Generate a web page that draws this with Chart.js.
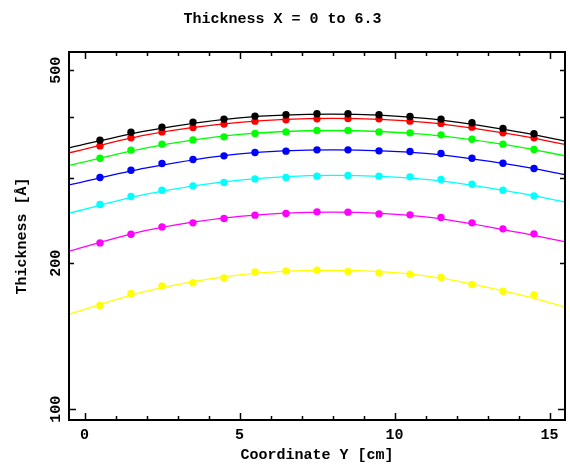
<!DOCTYPE html>
<html>
<head>
<meta charset="utf-8">
<script src="https://cdn.jsdelivr.net/npm/chart.js@4"></script>
<style>
  html, body { margin: 0; padding: 0; background: #fff; }
</style>
</head>
<body>
<canvas id="chart" width="570" height="468"></canvas>
<script>
// measured positions (cm)
const xPoints = [0.5, 1.5, 2.5, 3.5, 4.5, 5.5, 6.5, 7.5, 8.5, 9.5, 10.5, 11.5, 12.5, 13.5, 14.5];
const xFit = [-0.5, 2, 5, 8, 11, 14, 15.5];

const seriesColors = ["#000000", "#ff0000", "#00ff00", "#0000ff", "#00ffff", "#ff00ff", "#ffff00"];

const blackVals = [358.6, 372.5, 381.5, 390.7, 396.3, 402.0, 404.5, 406.4, 406.4, 404.5, 401.3, 396.3, 389.4, 379.2, 369.6];
const redVals = [349.0, 362.6, 373.0, 380.9, 387.0, 392.5, 394.9, 396.8, 397.6, 396.8, 392.5, 388.3, 381.5, 371.3, 362.6];
const greenVals = [329.2, 342.0, 351.9, 359.1, 364.3, 370.2, 373.0, 375.5, 375.5, 373.0, 371.3, 367.8, 360.3, 351.9, 343.1];
const blueVals = [300.4, 311.0, 321.1, 327.2, 332.9, 338.3, 340.4, 342.5, 342.5, 340.9, 339.9, 336.7, 329.2, 321.5, 313.5];
const cyanVals = [264.3, 274.5, 282.8, 288.7, 293.4, 298.4, 300.4, 302.3, 303.3, 302.3, 301.3, 297.6, 291.0, 282.8, 275.3];
const magentaVals = [220.2, 229.5, 237.6, 242.2, 247.3, 251.2, 253.2, 255.2, 254.8, 252.7, 251.6, 248.5, 242.2, 235.4, 229.9];
const yellowVals = [163.6, 173.2, 179.6, 182.2, 186.5, 191.9, 192.8, 193.5, 192.3, 191.0, 189.8, 186.9, 180.8, 175.1, 172.1];

// fitted curves, read at xFit
const blackFit = [345.8, 374.8, 398.7, 405.8, 397.6, 373.0, 357.4];
const redFit = [337.6, 367.8, 390.1, 397.6, 390.1, 366.7, 351.4];
const greenFit = [318.0, 345.8, 368.5, 375.5, 368.5, 347.4, 332.9];
const blueFit = [290.0, 314.4, 336.1, 342.5, 336.7, 317.4, 304.7];
const cyanFit = [253.6, 277.5, 296.6, 303.3, 297.6, 279.2, 267.6];
const magentaFit = [211.7, 233.6, 249.7, 254.8, 249.2, 231.4, 221.3];
const yellowFit = [157.0, 175.1, 189.2, 193.2, 188.3, 172.4, 162.5];

const allVals = [blackVals, redVals, greenVals, blueVals, cyanVals, magentaVals, yellowVals];
const allFits = [blackFit, redFit, greenFit, blueFit, cyanFit, magentaFit, yellowFit];

const xTickLabels = [0, 5, 10, 15];
const xMinorTicks = [0, 1, 2, 3, 4, 5, 6, 7, 8, 9, 10, 11, 12, 13, 14, 15];
const yTickLabels = [100, 200, 500];
const yMinorTicks = [100, 200, 300, 400, 500];

const FONT = "'Liberation Mono', 'DejaVu Sans Mono', monospace";

// dots first so they sit on top of the curves
const dotSets = allVals.map((vals, i) => ({
  data: vals.map((v, j) => ({ x: xPoints[j], y: v })),
  showLine: false,
  backgroundColor: seriesColors[i],
  borderColor: seriesColors[i],
  pointRadius: 3.7,
  pointBorderWidth: 0,
}));

const fitSets = allFits.map((vals, i) => ({
  data: vals.map((v, j) => ({ x: xFit[j], y: v })),
  borderColor: seriesColors[i],
  borderWidth: 1.3,
  cubicInterpolationMode: "monotone",
  pointRadius: 0,
}));

const framePlugin = {
  id: "frame",
  afterDraw(chart) {
    const ctx = chart.ctx;
    const a = chart.chartArea;
    const xs = chart.scales.x;
    const ys = chart.scales.y;
    ctx.save();
    ctx.strokeStyle = "#000";
    ctx.lineWidth = 1.5;
    ctx.beginPath();
    xMinorTicks.forEach((v) => {
      const px = Math.round(xs.getPixelForValue(v)) + 0.5;
      const len = v % 5 === 0 ? 7 : 4;
      ctx.moveTo(px, a.bottom);
      ctx.lineTo(px, a.bottom - len);
      ctx.moveTo(px, a.top);
      ctx.lineTo(px, a.top + len);
    });
    yMinorTicks.forEach((v) => {
      const py = Math.round(ys.getPixelForValue(v)) + 0.5;
      const len = v === 100 ? 7 : 5;
      ctx.moveTo(a.left, py);
      ctx.lineTo(a.left + len, py);
      ctx.moveTo(a.right, py);
      ctx.lineTo(a.right - len, py);
    });
    ctx.stroke();
    ctx.lineWidth = 2;
    ctx.strokeRect(a.left, a.top, a.right - a.left, a.bottom - a.top);

    ctx.fillStyle = "#000";
    ctx.font = "bold 15px " + FONT;
    ctx.textAlign = "center";
    ctx.textBaseline = "alphabetic";
    yTickLabels.forEach((v) => {
      const py = ys.getPixelForValue(v);
      ctx.save();
      ctx.translate(a.left - 9, py);
      ctx.rotate(-Math.PI / 2);
      ctx.fillText(String(v), 0, 0);
      ctx.restore();
    });
    ctx.restore();
  },
};

new Chart(document.getElementById("chart"), {
  type: "line",
  data: { datasets: dotSets.concat(fitSets) },
  options: {
    responsive: false,
    animation: false,
    events: [],
    layout: { padding: { top: 0, right: 5, left: 0, bottom: 0 } },
    plugins: {
      legend: { display: false },
      tooltip: { enabled: false },
      title: {
        display: true,
        text: "Thickness X = 0 to 6.3",
        color: "#000",
        font: { family: FONT, size: 15, weight: "bold" },
        padding: { top: 10, bottom: 24 },
      },
    },
    scales: {
      x: {
        type: "linear",
        min: -0.5,
        max: 15.5,
        border: { display: false },
        grid: { display: false, drawTicks: false },
        afterBuildTicks: (s) => {
          s.ticks = xTickLabels.map((v) => ({ value: v }));
        },
        afterFit: (s) => {
          s.height = 48;
        },
        ticks: {
          color: "#000",
          padding: 6,
          maxRotation: 0,
          font: { family: FONT, size: 15, weight: "bold" },
        },
        title: {
          display: true,
          text: "Coordinate Y [cm]",
          color: "#000",
          font: { family: FONT, size: 15, weight: "bold" },
          padding: { top: 0, bottom: 4 },
        },
      },
      y: {
        type: "logarithmic",
        min: 95,
        max: 545,
        border: { display: false },
        grid: { display: false, drawTicks: false },
        ticks: { display: false },
        afterFit: (s) => {
          s.width = 69;
        },
        title: {
          display: true,
          text: "Thickness [Å]",
          color: "#000",
          font: { family: FONT, size: 15, weight: "bold" },
          padding: { top: 13, bottom: 0 },
        },
      },
    },
  },
  plugins: [framePlugin],
});
</script>
</body>
</html>
